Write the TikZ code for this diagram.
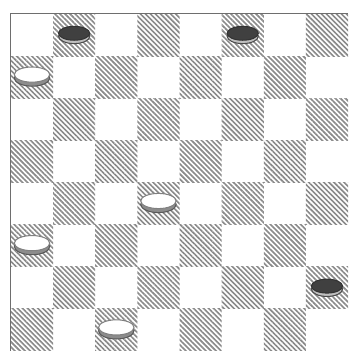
\documentclass[tikz,border=0pt]{standalone}
\usetikzlibrary{patterns.meta,shapes.geometric}
\definecolor{brdink}{HTML}{6E6E6E}
\definecolor{brdhatch}{HTML}{8A8A8A}
\tikzset{
  sq/.style={pattern={Lines[angle=-45,distance=2.4pt,line width=1.1pt]}, pattern color=brdhatch},
  frame/.style={draw=brdink, line width=0.7pt},
  pc/.style={ellipse, inner sep=0pt, line width=0.7pt},
  rim/.style={pc, minimum width=8.4mm, minimum height=3.9mm, draw=black!65, fill=black!45},
  wpc/.style={pc, minimum width=8.4mm, minimum height=3.6mm, draw=black!50, fill=white},
  brim/.style={pc, minimum width=7.4mm, minimum height=3.5mm, draw=black!70, fill=black!25},
  bpc/.style={pc, minimum width=7.4mm, minimum height=3.3mm, draw=black!80, fill=black!75},
}
\begin{document}
\begin{tikzpicture}
  \useasboundingbox (-0.26,0) rectangle (8.07,8.33);
  % dark squares
  \foreach \c in {0,...,7}
    \foreach \r in {0,...,7}{
      \pgfmathparse{int(mod(\c+\r,2))}
      \ifnum\pgfmathresult=0
        \fill[sq] (\c,\r) rectangle ++(1,1);
      \fi
    }
  \draw[frame] (0,0) |- (8,8);
  % white pieces
  \foreach \n/\x/\y in {1/0.5/6.5, 2/3.5/3.5, 3/0.5/2.5, 4/2.5/0.5}{
    \node[rim] (wr\n) at (\x,\y-0.02) {};
    \node[wpc] (w\n) at (\x,\y+0.06) {};
  }
  % black pieces
  \foreach \n/\x/\y in {1/1.5/7.5, 2/5.5/7.5, 3/7.5/1.5}{
    \node[brim] (br\n) at (\x,\y-0.03) {};
    \node[bpc] (b\n) at (\x,\y+0.04) {};
  }
\end{tikzpicture}
\end{document}
